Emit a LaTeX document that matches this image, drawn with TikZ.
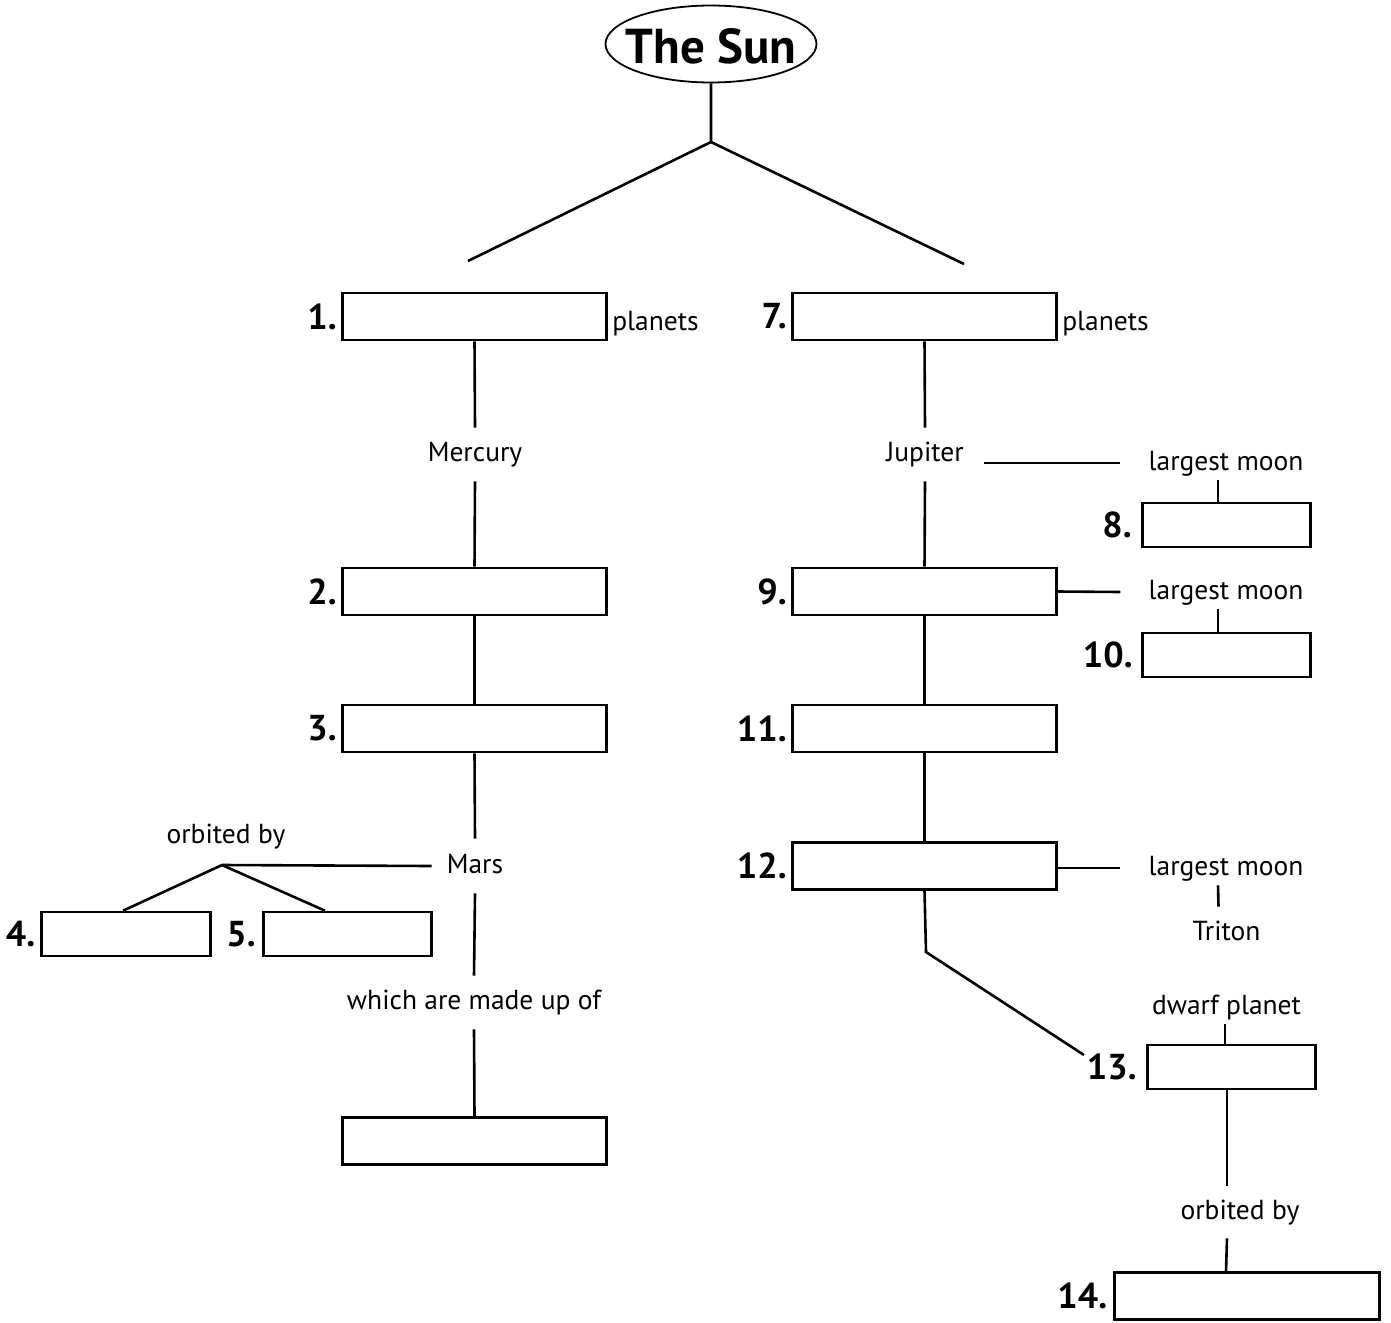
\documentclass[tikz,border=0pt]{standalone}
\usepackage{fontspec}
\setmainfont{PT Sans}
\usetikzlibrary{shapes.geometric}
\begin{document}
\begin{tikzpicture}[x=1pt,y=-1pt,
  line width=2.6pt,
  box/.style={draw, rectangle, inner sep=0pt, minimum width=264.5pt, minimum height=47pt},
  sbox/.style={draw, rectangle, inner sep=0pt, minimum width=168.5pt, minimum height=44pt},
  lbl/.style={font=\fontsize{27.5}{32}\selectfont, inner xsep=0pt, inner ysep=0pt, text height=20pt, text depth=6pt},
  num/.style={font=\fontsize{36}{40}\selectfont\bfseries, inner sep=0pt, anchor=east},
]
\useasboundingbox (0,0) rectangle (1391,1322);

% title
\node[draw, ellipse, line width=1.8pt, inner sep=0pt, minimum width=211pt, minimum height=77pt] (sun) at (711,44) {};
\node[font=\fontsize{49}{52}\selectfont\bfseries, inner sep=0pt] (title) at (711,46.5) {The Sun};
\coordinate (fork) at (711,142);
\coordinate (lend) at (468,261);
\coordinate (rend) at (964,264);
\draw (sun.south) -- (fork) -- (lend);
\draw (fork) -- (rend);

% left column
\node[box] (b1) at (474.5,316.5) {};
\node[num] (n1) at ([xshift=-3pt]b1.west) {1.};
\node[lbl, anchor=base west] (pl1) at (611,330) {planets};
\node[lbl, minimum height=51pt] (merc) at (475,454.5) {Mercury};
\node[box] (b2) at (474.5,591.5) {};
\node[num] (n2) at ([xshift=-3pt]b2.west) {2.};
\node[box] (b3) at (474.5,728.5) {};
\node[num] (n3) at ([xshift=-3pt]b3.west) {3.};
\node[lbl, minimum height=52pt] (mars) at (475,866) {Mars};
\node[lbl, minimum height=51pt] (made) at (474,1002.5) {which are made up of};
\node[box] (b6) at (474.5,1141) {};
\node[lbl] (orb1) at (226,836) {orbited by};
\coordinate (mfork) at (222,865);
\node[sbox] (b4) at (126,934) {};
\node[num] (n4) at ([xshift=-4pt]b4.west) {4.};
\node[sbox] (b5) at (347.5,934) {};
\node[num] (n5) at ([xshift=-5pt]b5.west) {5.};

\draw (b1.south) -- (merc.north);
\draw (merc.south) -- (b2.north);
\draw (b2.south) -- (b3.north);
\draw (b3.south) -- (mars.north);
\draw (mars.south) -- (made.north);
\draw (made.south) -- (b6.north);
\draw ([xshift=-14pt]mars.west) -- (mfork);
\draw (mfork) -- ([xshift=-3pt]b4.north);
\draw (mfork) -- ([xshift=-22.5pt]b5.north);

% right column
\node[box] (b7) at (924.5,316.5) {};
\node[num] (n7) at ([xshift=-3pt]b7.west) {7.};
\node[lbl, anchor=base west] (pl2) at (1061,330) {planets};
\node[lbl, minimum height=51pt] (jup) at (925,454.5) {Jupiter};
\node[lbl, minimum height=32pt] (lm1) at (1226,463) {largest moon};
\node[sbox] (b8) at (1226.5,525) {};
\node[num] (n8) at ([xshift=-8pt]b8.west) {8.};
\node[box] (b9) at (924.5,591.5) {};
\node[num] (n9) at ([xshift=-3pt]b9.west) {9.};
\node[lbl, minimum height=32pt] (lm2) at (1226,592) {largest moon};
\node[sbox] (b10) at (1226.5,655) {};
\node[num] (n10) at ([xshift=-7pt]b10.west) {10.};
\node[box] (b11) at (924.5,728.5) {};
\node[num] (n11) at ([xshift=-3pt]b11.west) {11.};
\node[box] (b12) at (924.5,866) {};
\node[num] (n12) at ([xshift=-3pt]b12.west) {12.};
\node[lbl, minimum height=32pt] (lm3) at (1226,868) {largest moon};
\node[lbl, minimum height=50pt] (trit) at (1226.5,933) {Triton};
\coordinate (bend) at (926,952);
\coordinate (dend) at (1084,1055);
\node[lbl, minimum height=32pt] (dwarf) at (1226.5,1007) {dwarf planet};
\node[sbox] (b13) at (1231.5,1067) {};
\node[num] (n13) at ([xshift=-8pt]b13.west) {13.};
\node[lbl, minimum height=50pt] (orb2) at (1240,1212) {orbited by};
\node[box] (b14) at (1247,1296) {};
\node[num] (n14) at ([xshift=-5pt]b14.west) {14.};

\draw (b7.south) -- (jup.north);
\draw (jup.south) -- (b9.north);
\draw ([xshift=19pt,yshift=-8.5pt]jup.east) -- ([xshift=-27pt]lm1.west);
\draw ([xshift=-8pt]lm1.south) -- ([xshift=-8.5pt]b8.north);
\draw (b9.east) -- ([xshift=-27pt]lm2.west);
\draw ([xshift=-8pt]lm2.south) -- ([xshift=-8.5pt]b10.north);
\draw (b9.south) -- (b11.north);
\draw (b11.south) -- (b12.north);
\draw ([yshift=-2pt]b12.east) -- ([xshift=-27pt]lm3.west);
\draw ([xshift=-8pt]lm3.south) -- ([xshift=-8pt]trit.north);
\draw (b12.south) -- (bend) -- (dend);
\draw ([xshift=-1.5pt]dwarf.south) -- ([xshift=-6.5pt]b13.north);
\draw ([xshift=-4.5pt]b13.south) -- ([xshift=-13pt]orb2.north);
\draw ([xshift=-13pt]orb2.south) -- ([xshift=-21pt]b14.north);
\end{tikzpicture}
\end{document}
